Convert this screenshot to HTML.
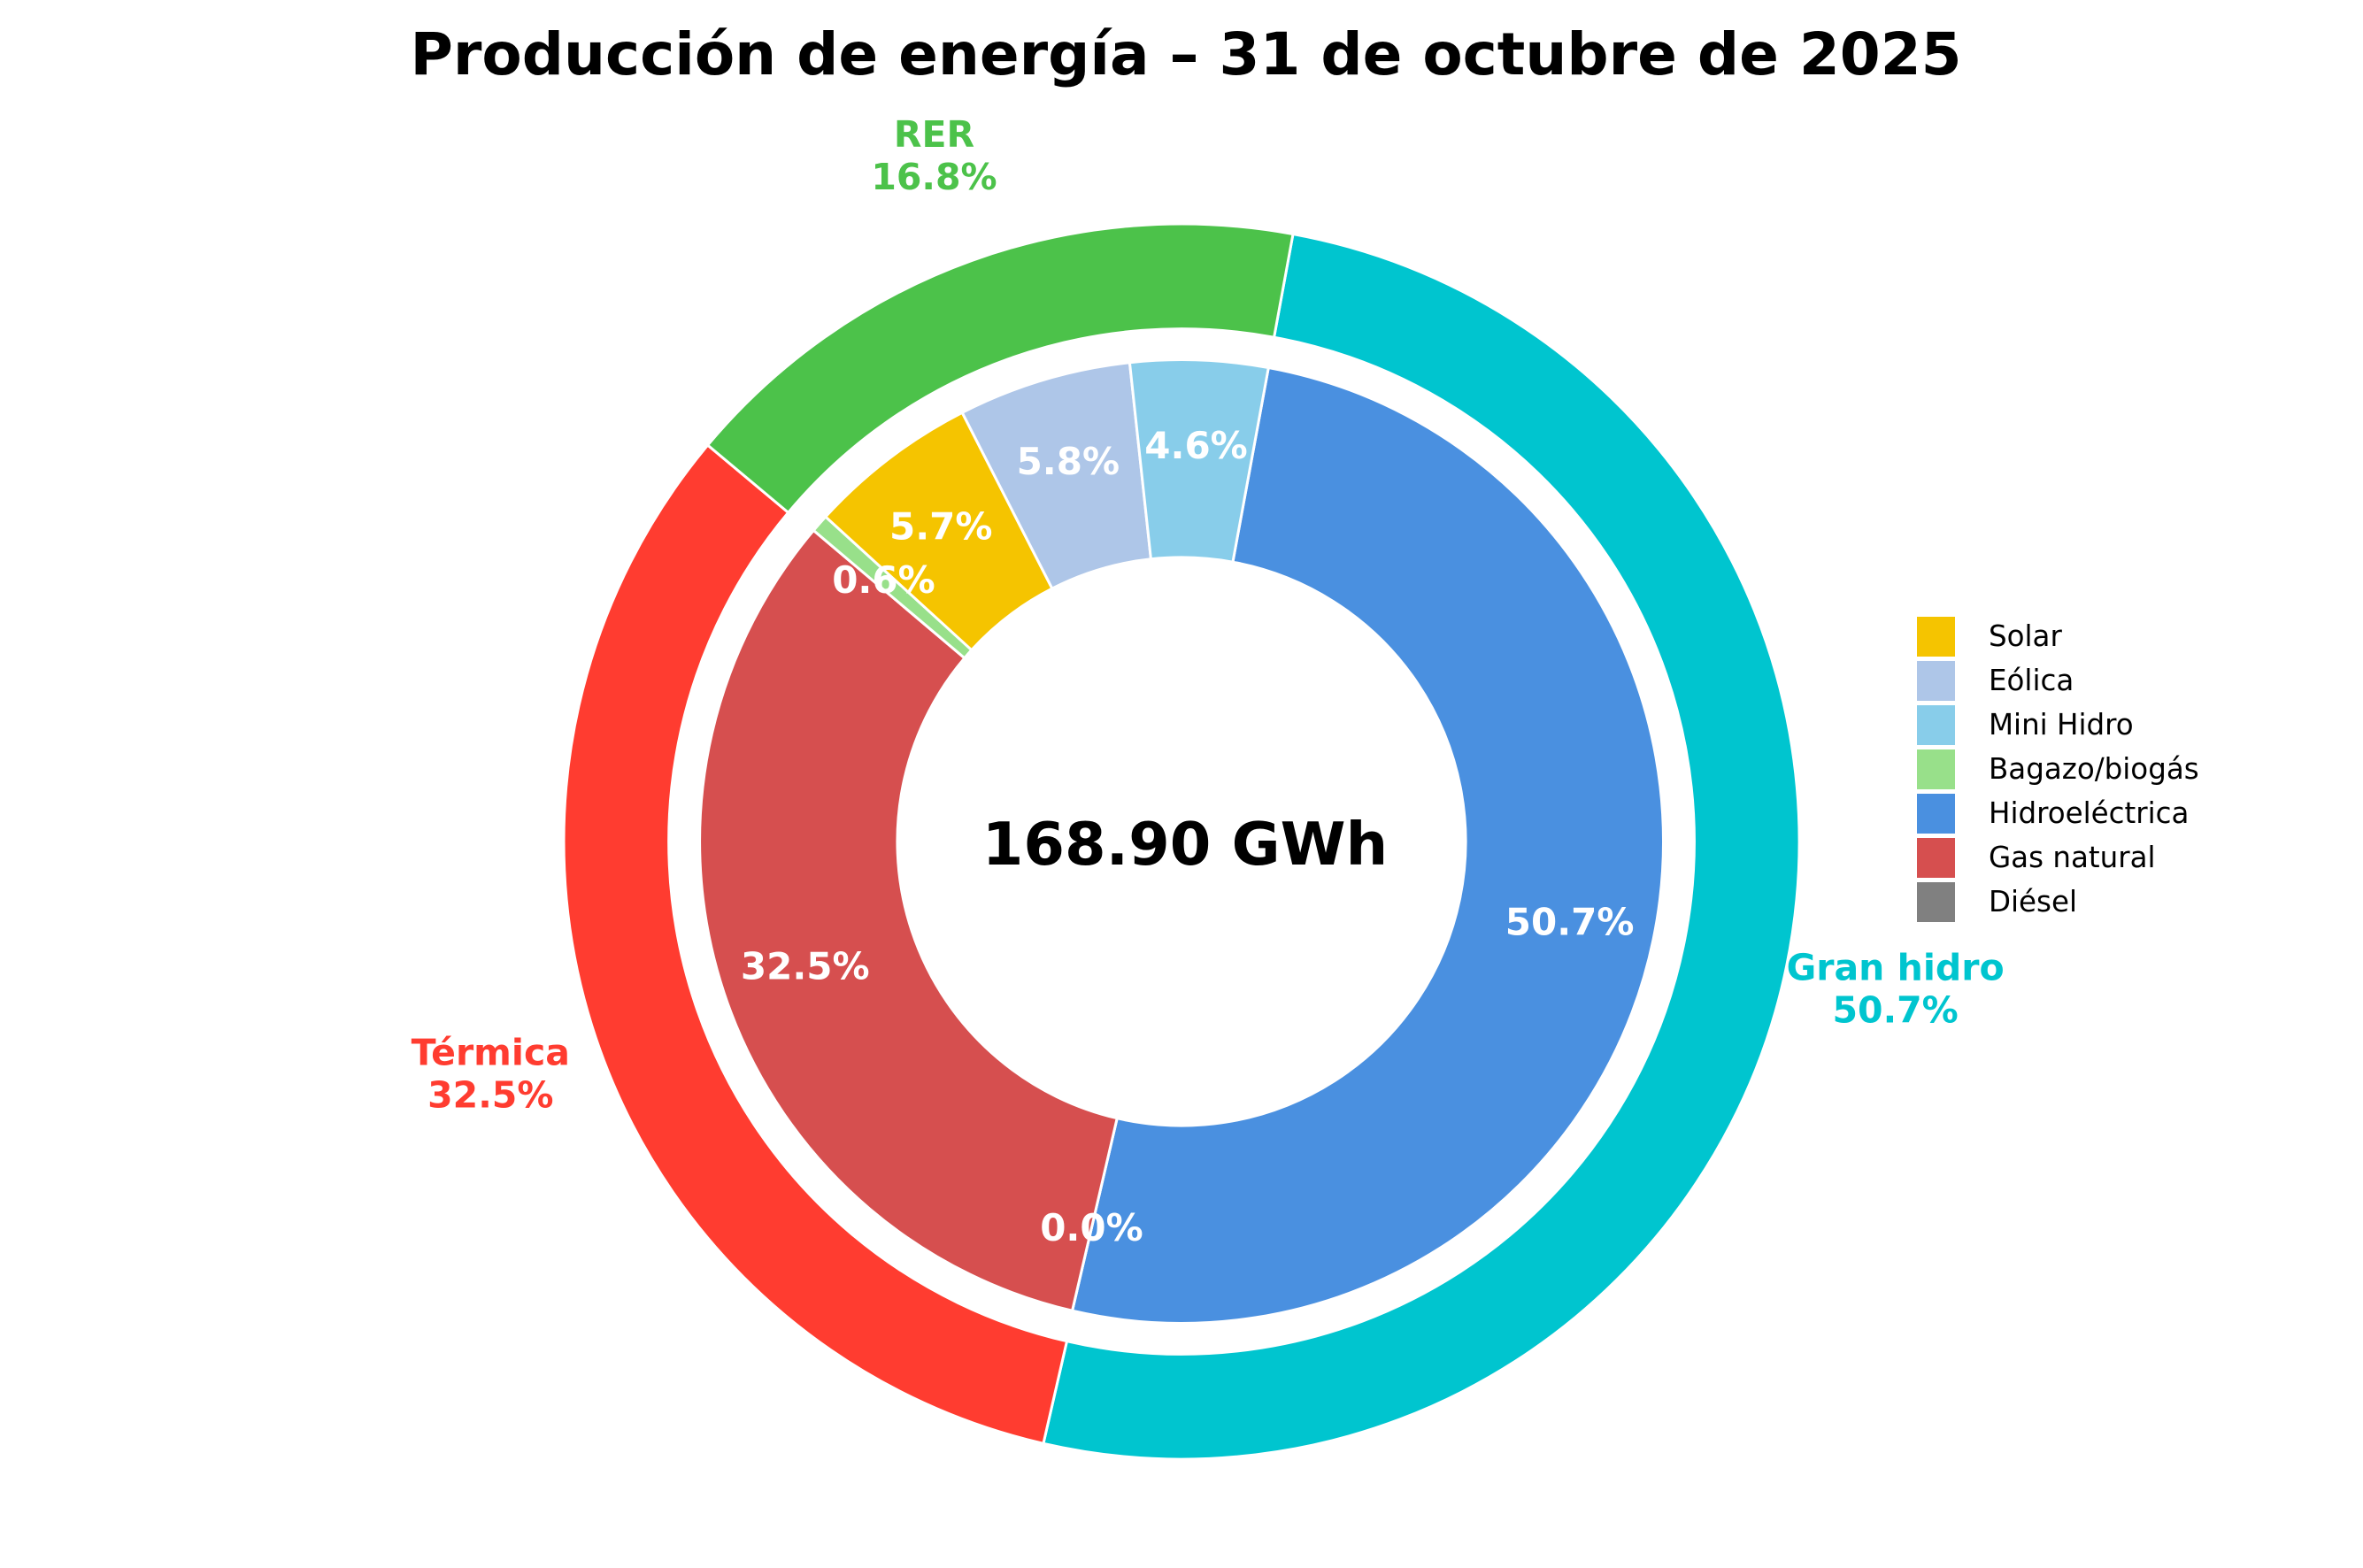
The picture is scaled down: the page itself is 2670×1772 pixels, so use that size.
<!DOCTYPE html>
<html><head><meta charset="utf-8"><style>
html,body{margin:0;padding:0;background:#fff;}
svg{display:block;font-family:"DejaVu Sans","Liberation Sans",sans-serif;}
</style></head><body>
<svg id="chart" width="2670" height="1772" viewBox="0 0 2670 1772">
<text x="1340" y="84" text-anchor="middle" font-size="66" font-weight="bold" fill="#000">Producción de energía – 31 de octubre de 2025</text>
<g id="outer"></g>
<g id="inner"></g>
<g id="labels"></g>
<text x="1339" y="977" text-anchor="middle" font-size="67" font-weight="bold" fill="#000">168.90 GWh</text>
<g id="legend"></g>
</svg>
<script>
const outerCats = ["Gran hidro", "Térmica", "RER"];
const outerVals = [50.7, 32.5, 16.8];
const outerColors = ["#00C5CF", "#FF3C30", "#4CC24A"];
const innerCats = ["Hidroeléctrica", "Diésel", "Gas natural", "Bagazo/biogás", "Solar", "Eólica", "Mini Hidro"];
const innerVals = [50.7, 0.0, 32.5, 0.6, 5.7, 5.8, 4.6];
const innerColors = ["#4A90E0", "#808080", "#D64F4F", "#98E08A", "#F5C400", "#AEC6E8", "#88CDEA"];
const legendCats = ["Solar", "Eólica", "Mini Hidro", "Bagazo/biogás", "Hidroeléctrica", "Gas natural", "Diésel"];
const legendColors = ["#F5C400", "#AEC6E8", "#88CDEA", "#98E08A", "#4A90E0", "#D64F4F", "#808080"];

const NS = "http://www.w3.org/2000/svg";
const cx = 1335, cy = 951, R = 698, START = 10.4;
function pt(a, r) { const t = a * Math.PI / 180; return [cx + r * Math.sin(t), cy - r * Math.cos(t)]; }
function arc(a0, a1, r0, r1) {
  const large = (a1 - a0) > 180 ? 1 : 0;
  const p0 = pt(a0, r1), p1 = pt(a1, r1), p2 = pt(a1, r0), p3 = pt(a0, r0);
  return `M${p0[0]},${p0[1]} A${r1},${r1} 0 ${large} 1 ${p1[0]},${p1[1]} L${p2[0]},${p2[1]} A${r0},${r0} 0 ${large} 0 ${p3[0]},${p3[1]} Z`;
}
function ring(g, cats, vals, colors, r0, r1, lblR, showLbl, outerLbl) {
  const tot = vals.reduce((a, b) => a + b, 0);
  let a = START;
  const lg = document.getElementById('labels');
  cats.forEach((c, i) => {
    const sweep = vals[i] / tot * 360;
    const p = document.createElementNS(NS, 'path');
    p.setAttribute('d', arc(a, a + Math.max(sweep, 0.001), r0, r1));
    p.setAttribute('fill', colors[i]);
    p.setAttribute('stroke', '#fff');
    p.setAttribute('stroke-width', '3');
    
    
    g.appendChild(p);
    const mid = a + sweep / 2;
    if (showLbl) {
      const q = pt(mid, lblR);
      const t = document.createElementNS(NS, 'text');
      t.setAttribute('x', q[0]); t.setAttribute('y', q[1]);
      t.setAttribute('text-anchor', 'middle'); t.setAttribute('dominant-baseline', 'central');
      t.setAttribute('font-size', '42'); t.setAttribute('font-weight', 'bold'); t.setAttribute('fill', '#fff');
      t.textContent = vals[i].toFixed(1) + '%';
      
      
      lg.appendChild(t);
    }
    if (outerLbl) {
      const q = pt(mid, lblR);
      [c, vals[i].toFixed(1) + '%'].forEach((s, k) => {
        const t = document.createElementNS(NS, 'text');
        t.setAttribute('x', q[0]); t.setAttribute('y', q[1] + (k === 0 ? -24 : 24));
        t.setAttribute('text-anchor', 'middle'); t.setAttribute('dominant-baseline', 'central');
        t.setAttribute('font-size', '41'); t.setAttribute('font-weight', 'bold'); t.setAttribute('fill', colors[i]);
        t.textContent = s;
        
        
        lg.appendChild(t);
      });
    }
    a += sweep;
  });
}
ring(document.getElementById('outer'), outerCats, outerVals, outerColors, R * 0.83, R, R * 1.18, false, true);
ring(document.getElementById('inner'), innerCats, innerVals, innerColors, R * 0.46, R * 0.78, 448, true, false);

const leg = document.getElementById('legend');
legendCats.forEach((c, i) => {
  const y = 697 + i * 50;
  const r = document.createElementNS(NS, 'rect');
  r.setAttribute('x', 2166); r.setAttribute('y', y); r.setAttribute('width', 43); r.setAttribute('height', 45);
  r.setAttribute('fill', legendColors[i]);
  
  
  leg.appendChild(r);
  const t = document.createElementNS(NS, 'text');
  t.setAttribute('x', 2247); t.setAttribute('y', y + 33);
  t.setAttribute('font-size', '32.5'); t.setAttribute('fill', '#000');
  t.textContent = c;
  
  
  leg.appendChild(t);
});
</script>
</body></html>
